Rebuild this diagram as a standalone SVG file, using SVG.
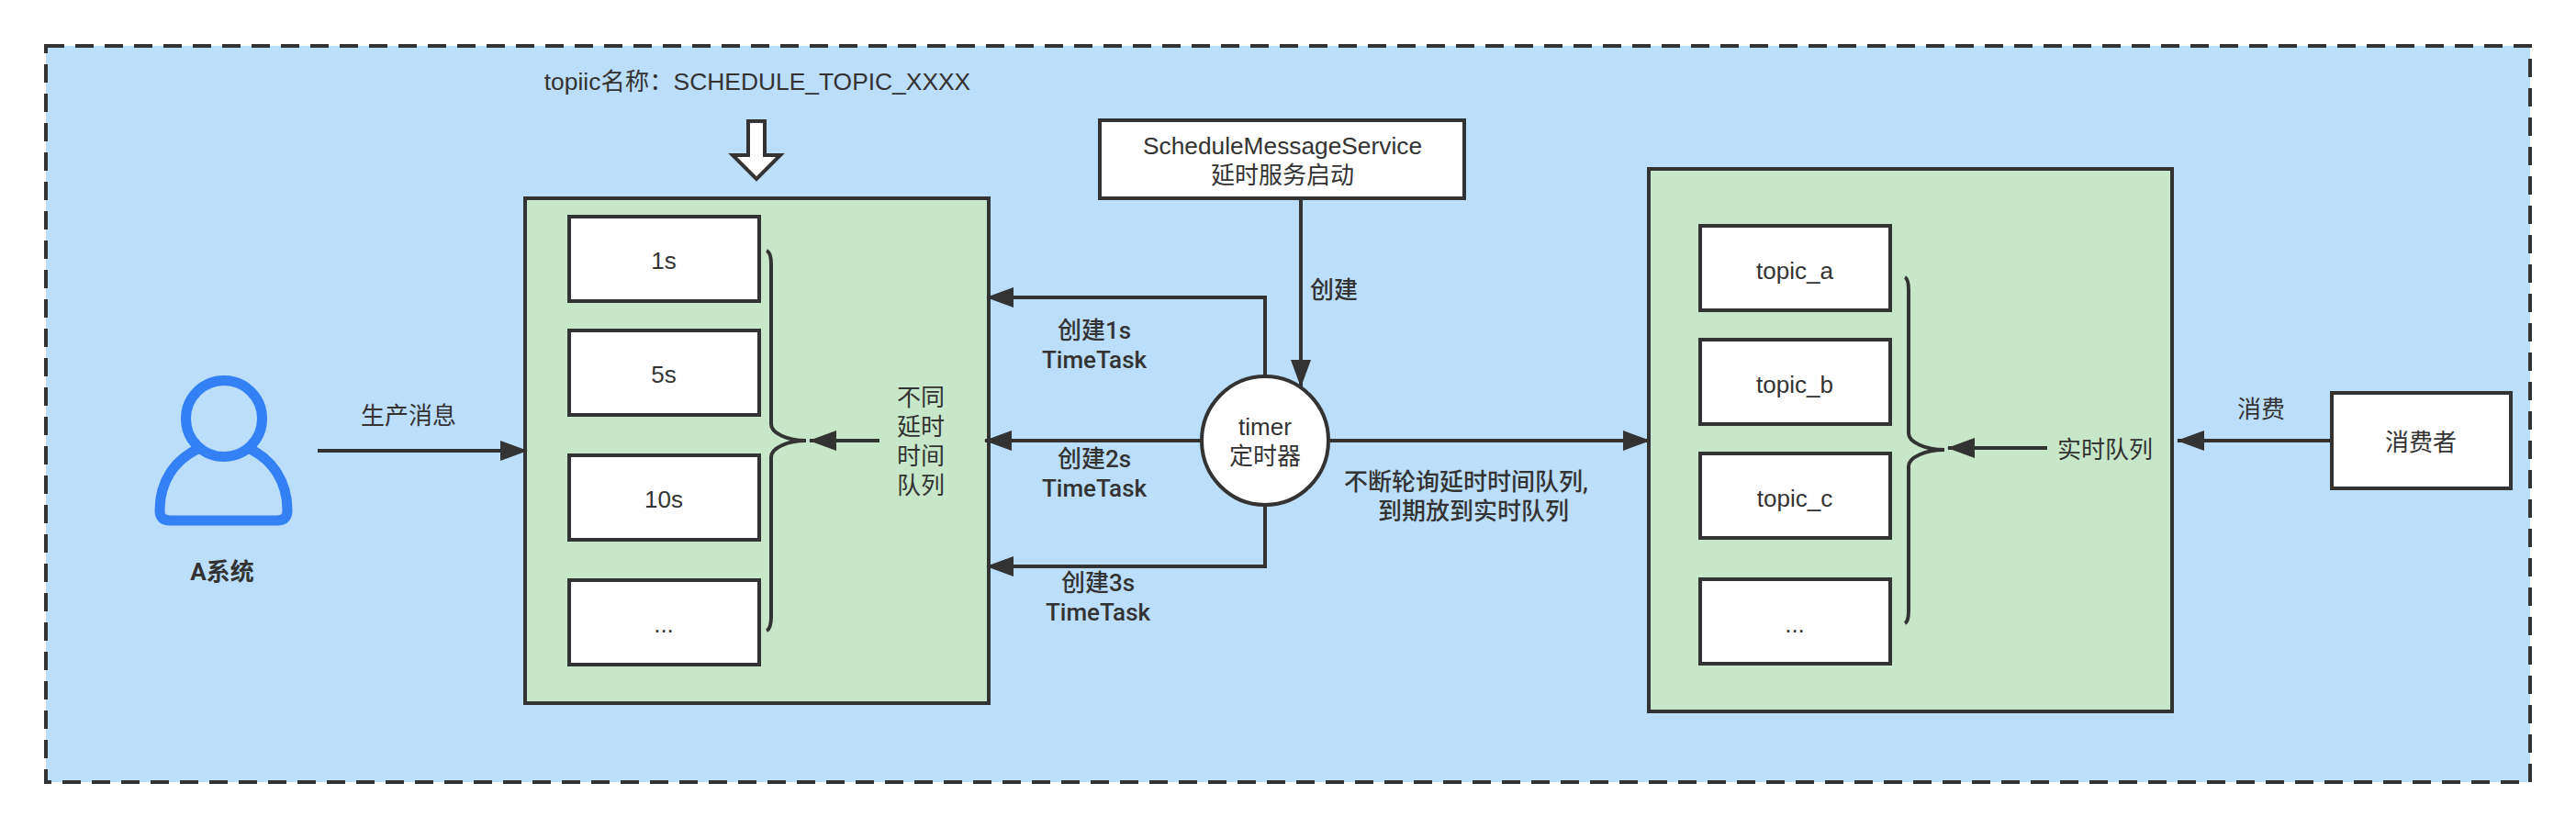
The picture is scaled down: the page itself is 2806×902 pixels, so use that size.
<svg xmlns="http://www.w3.org/2000/svg" width="2806" height="902" viewBox="0 0 2806 902">
<style>
text{font-family:"Liberation Sans","Noto Sans CJK SC",sans-serif;font-size:26px;fill:#333;text-anchor:middle;dominant-baseline:central}
.b{font-family:Roboto,"Noto Sans CJK SC",sans-serif;font-weight:500;font-size:26px}
.box{fill:#fff;stroke:#333;stroke-width:4}
.grp{fill:#c8e6c9;stroke:#333;stroke-width:4}
.c{fill:none;stroke:#333;stroke-width:4}
.br{fill:none;stroke:#333;stroke-width:4}
</style>
<defs>
<marker id="a" markerUnits="userSpaceOnUse" markerWidth="30" markerHeight="22" refX="29" refY="11" orient="auto"><path d="M0 0L30 11L0 22Z" fill="#333"/></marker>
</defs>
<rect id="frame" x="50" y="50" width="2706" height="802" fill="#bbdefb" stroke="#333" stroke-width="4" stroke-dasharray="20 12"/>
<g id="topic-name"><text x="825" y="89" style="font-size:26.400px">topiic名称：SCHEDULE_TOPIC_XXXX</text>
<path d="M815 132H833V169H850L824 195L798 169H815Z" fill="#fff" stroke="#333" stroke-width="4"/></g>
<g id="a-system">
<circle cx="244" cy="456" r="41.500" fill="none" stroke="#3381f5" stroke-width="11"/>
<path d="M218 488C190 500 174 525 174 556Q174 567 185 567H302Q313 567 313 556C313 525 297 500 270 488" fill="none" stroke="#3381f5" stroke-width="11" stroke-linejoin="round"/>
<text class="b" x="242" y="623" style="font-weight:700">A系统</text></g>
<g id="delay-queues"><rect class="grp" x="572" y="216" width="505" height="550"/>
<rect class="box" x="620" y="236" width="207" height="92"/><text x="723" y="284">1s</text>
<rect class="box" x="620" y="360" width="207" height="92"/><text x="723" y="408">5s</text>
<rect class="box" x="620" y="496" width="207" height="92"/><text x="723" y="544">10s</text>
<rect class="box" x="620" y="632" width="207" height="92"/><text x="723" y="680">...</text>
<path class="br" d="M835 273Q840 275 840 288V462C840 472 858 480 878 480C858 480 840 488 840 498V672Q840 685 835 687"/>
<text x="1003" y="433">不同</text><text x="1003" y="465">延时</text><text x="1003" y="497">时间</text><text x="1003" y="529">队列</text></g>
<g id="service"><rect class="box" x="1198" y="131" width="397" height="85"/><text x="1397" y="159" style="font-size:26.300px">ScheduleMessageService</text><text x="1397" y="191">延时服务启动</text></g>
<g id="timer"><ellipse cx="1378" cy="480" rx="69" ry="70" fill="#fff" stroke="#333" stroke-width="4"/><text x="1378" y="465">timer</text><text x="1378" y="497">定时器</text></g>
<g id="realtime-queues"><rect class="grp" x="1796" y="184" width="570" height="591"/>
<rect class="box" x="1852" y="246" width="207" height="92"/><text x="1955" y="295">topic_a</text>
<rect class="box" x="1852" y="370" width="207" height="92"/><text x="1955" y="419">topic_b</text>
<rect class="box" x="1852" y="494" width="207" height="92"/><text x="1955" y="543">topic_c</text>
<rect class="box" x="1852" y="631" width="207" height="92"/><text x="1955" y="680">...</text>
<path class="br" d="M2075 302Q2079 304 2079 316V472C2079 482 2098 490 2118 490C2098 490 2079 498 2079 508V665Q2079 677 2075 679"/>
<text x="2293" y="490">实时队列</text></g>
<g id="consumer"><rect class="box" x="2540" y="428" width="195" height="104"/><text x="2637" y="482">消费者</text></g>
<g id="connectors">
<path class="c" d="M346 491H574" marker-end="url(#a)"/>
<path class="c" d="M958 480H882" marker-end="url(#a)"/>
<path class="c" d="M1417 216V421" marker-end="url(#a)"/>
<path class="c" d="M1378 409V324H1075" marker-end="url(#a)"/>
<path class="c" d="M1308 480H1073" marker-end="url(#a)"/>
<path class="c" d="M1378 551V617H1075" marker-end="url(#a)"/>
<path class="c" d="M1448 480H1797" marker-end="url(#a)"/>
<path class="c" d="M2230 488H2122" marker-end="url(#a)"/>
<path class="c" d="M2540 480H2372" marker-end="url(#a)"/>
</g>
<g id="labels">
<text x="445" y="453">生产消息</text>
<text class="b" x="1453" y="316">创建</text>
<text class="b" x="1192" y="360">创建1s</text><text class="b" x="1192" y="392">TimeTask</text>
<text class="b" x="1192" y="500">创建2s</text><text class="b" x="1192" y="532">TimeTask</text>
<text class="b" x="1196" y="635">创建3s</text><text class="b" x="1196" y="667">TimeTask</text>
<text class="b" x="1597" y="525">不断轮询延时时间队列,</text><text class="b" x="1605" y="557">到期放到实时队列</text>
<text x="2463" y="446">消费</text>
</g>
</svg>
